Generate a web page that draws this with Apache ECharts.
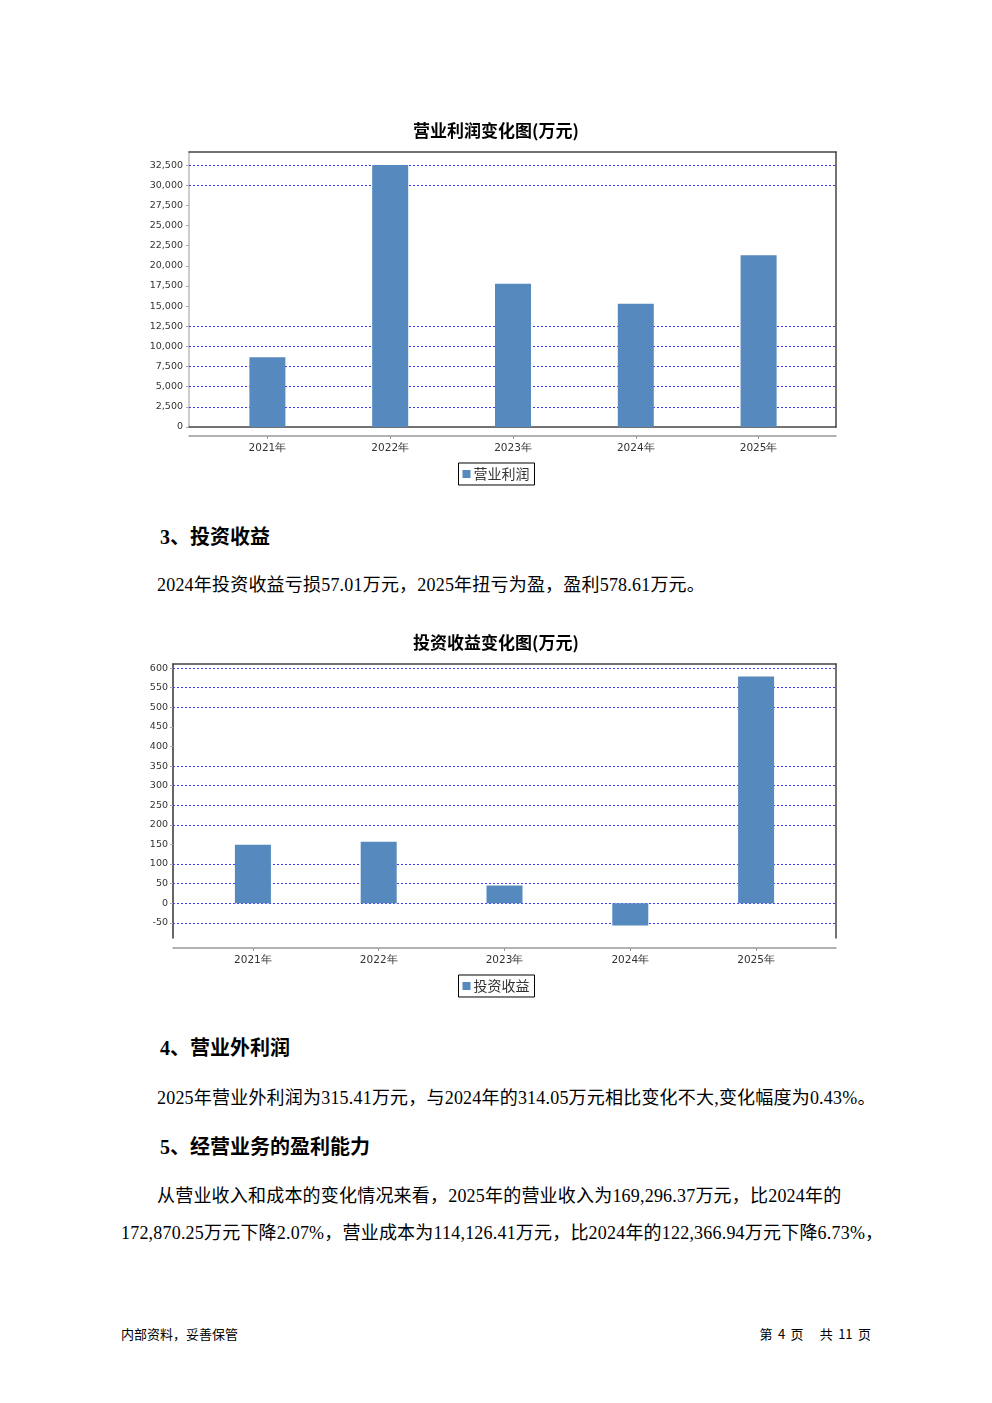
<!DOCTYPE html>
<html><head><meta charset="utf-8">
<script src="https://cdn.jsdelivr.net/npm/echarts@6/dist/echarts.min.js"></script>
<style>
body{margin:0;background:#fff;width:992px;height:1403px;position:relative;overflow:hidden;}
.t{position:absolute;white-space:nowrap;font-family:"Liberation Serif","Noto Sans CJK SC",serif;font-size:18px;line-height:18px;color:#000;letter-spacing:0.2px;}
.h{font-weight:bold;font-size:20px;line-height:20px;letter-spacing:0;}
.f{font-family:"Noto Sans CJK SC",sans-serif;font-size:13px;line-height:13px;letter-spacing:0;}
#c1{position:absolute;left:0;top:100px;width:992px;height:400px;}
#c2{position:absolute;left:0;top:612px;width:992px;height:400px;}
</style></head><body>
<div id="c1"></div>
<div class="t h" style="left:160px;top:527px;">3、投资收益</div>
<div class="t" style="left:157px;top:576px;">2024年投资收益亏损57.01万元，2025年扭亏为盈，盈利578.61万元。</div>
<div id="c2"></div>
<div class="t h" style="left:160px;top:1038px;">4、营业外利润</div>
<div class="t" style="left:157px;top:1089px;">2025年营业外利润为315.41万元，与2024年的314.05万元相比变化不大,变化幅度为0.43%。</div>
<div class="t h" style="left:160px;top:1137px;">5、经营业务的盈利能力</div>
<div class="t" style="left:157px;top:1187px;">从营业收入和成本的变化情况来看，2025年的营业收入为169,296.37万元，比2024年的</div>
<div class="t" style="left:121px;top:1224px;">172,870.25万元下降2.07%，营业成本为114,126.41万元，比2024年的122,366.94万元下降6.73%，</div>
<div class="t f" style="left:121px;top:1327px;">内部资料，妥善保管</div>
<div class="t f" style="right:121px;top:1327px;word-spacing:2.5px;">第 4 页 &nbsp; 共 11 页</div>
<script>
// ---- data ----
const years = ['2021年', '2022年', '2023年', '2024年', '2025年'];
const profitName = '营业利润';
const profitValues = [8650, 32495, 17780, 15300, 21300];
const profitTicks = [0, 2500, 5000, 7500, 10000, 12500, 15000, 17500, 20000, 22500, 25000, 27500, 30000, 32500];
const profitGridLines = [2500, 5000, 7500, 10000, 12500, 30000, 32500];

const investName = '投资收益';
const investValues = [149, 157, 45, -57.01, 578.61];
const investTicks = [-50, 0, 50, 100, 150, 200, 250, 300, 350, 400, 450, 500, 550, 600];
const investGridLines = [-50, 0, 50, 100, 200, 250, 300, 350, 500, 550, 600];

function rangeOf(vals) {
  const lo = Math.min(0, ...vals), hi = Math.max(0, ...vals);
  const span = hi - lo;
  return [lo < 0 ? lo - span * 0.05 : 0, hi + span * 0.05];
}

function hiddenAxisParts() {
  return { axisTick: { show: false }, axisLabel: { show: false }, splitLine: { show: false } };
}

function makeOption(cfg) {
  const [ymin, ymax] = rangeOf(cfg.values);
  const fmt = v => Number(v).toLocaleString('en-US');
  const frame = { left: cfg.frameLeft, width: cfg.frameWidth, top: 52, height: cfg.frameHeight };
  return {
    animation: false,
    title: { text: cfg.title, left: 'center', top: 17,
      textStyle: { fontSize: 17, fontWeight: 'bold', color: '#000', fontFamily: 'Noto Sans CJK SC' } },
    legend: { data: [cfg.name], top: 363, left: 'center', icon: 'rect', itemWidth: 8, itemHeight: 8,
      itemGap: 4, padding: [4, 5, 4, 4], borderColor: '#000', borderWidth: 1, selectedMode: false,
      textStyle: { fontSize: 14, color: '#333', fontFamily: 'Noto Sans CJK SC', padding: [0, 0, 0, -2] } },
    grid: [
      frame,
      { left: cfg.dataLeft, width: cfg.dataWidth, top: 52, height: cfg.frameHeight },
      Object.assign({}, frame)
    ],
    xAxis: [
      Object.assign({ gridIndex: 0, type: 'value', min: 0, max: 1, position: 'top',
        axisLine: { show: true, onZero: false, lineStyle: { color: '#444', width: 1.5 } } }, hiddenAxisParts()),
      Object.assign({ gridIndex: 0, type: 'value', min: 0, max: 1, position: 'bottom',
        axisLine: { show: cfg.bottomBorder, onZero: false, lineStyle: { color: '#444', width: 1.5 } } }, hiddenAxisParts()),
      Object.assign({ gridIndex: 2, type: 'value', min: 0, max: 1, position: 'bottom', offset: cfg.axisOffset,
        axisLine: { show: true, onZero: false, lineStyle: { color: '#999', width: 1.5 } } }, hiddenAxisParts()),
      { gridIndex: 1, type: 'category', data: years, position: 'bottom', offset: cfg.axisOffset,
        axisLine: { show: false, onZero: false },
        axisTick: { show: true, alignWithLabel: true, length: 3, lineStyle: { color: '#999' } },
        axisLabel: { margin: 7, fontSize: 10.5, color: '#333', fontFamily: 'DejaVu Sans' },
        splitLine: { show: false } }
    ],
    yAxis: [
      { gridIndex: 0, type: 'value', min: ymin, max: ymax, position: 'left',
        axisLine: { show: true, onZero: false, lineStyle: { color: cfg.yLineColor, width: cfg.yLineWidth } },
        axisTick: { show: true, length: 3, customValues: cfg.ticks, lineStyle: { color: '#aaa' } },
        axisLabel: { customValues: cfg.ticks, formatter: fmt, margin: cfg.labelMargin, fontSize: 9.5,
          color: '#333', fontFamily: 'DejaVu Sans' },
        splitLine: { show: false } },
      Object.assign({ gridIndex: 0, type: 'value', min: ymin, max: ymax, position: 'right',
        axisLine: { show: true, onZero: false, lineStyle: { color: '#444', width: 1.5 } } }, hiddenAxisParts()),
      { gridIndex: 1, type: 'value', min: ymin, max: ymax, show: false, splitLine: { show: false } },
      { gridIndex: 2, type: 'value', min: ymin, max: ymax, show: false, splitLine: { show: false } }
    ],
    series: [
      { type: 'line', xAxisIndex: 0, yAxisIndex: 0, data: [], silent: true, z: 1,
        markLine: { silent: true, symbol: 'none', label: { show: false },
          lineStyle: { type: [2, 2], color: '#3b3bff', width: 1 },
          data: cfg.gridLines.map(v => ({ yAxis: v })) } },
      { type: 'bar', name: cfg.name, xAxisIndex: 3, yAxisIndex: 2, data: cfg.values, barWidth: 36, z: 5,
        itemStyle: { color: '#5689bd' } }
    ]
  };
}

const c1 = echarts.init(document.getElementById('c1'));
c1.setOption(makeOption({
  title: '营业利润变化图(万元)', name: profitName, values: profitValues, ticks: profitTicks,
  gridLines: profitGridLines, frameLeft: 189, frameWidth: 647, frameHeight: 275,
  dataLeft: 206, dataWidth: 614, bottomBorder: true, axisOffset: 9,
  yLineColor: '#ccc', yLineWidth: 2, labelMargin: 6
}));
const c2 = echarts.init(document.getElementById('c2'));
c2.setOption(makeOption({
  title: '投资收益变化图(万元)', name: investName, values: investValues, ticks: investTicks,
  gridLines: investGridLines, frameLeft: 173, frameWidth: 663, frameHeight: 274,
  dataLeft: 190, dataWidth: 629, bottomBorder: false, axisOffset: 10,
  yLineColor: '#333', yLineWidth: 1.5, labelMargin: 5
}));
</script>
</body></html>
